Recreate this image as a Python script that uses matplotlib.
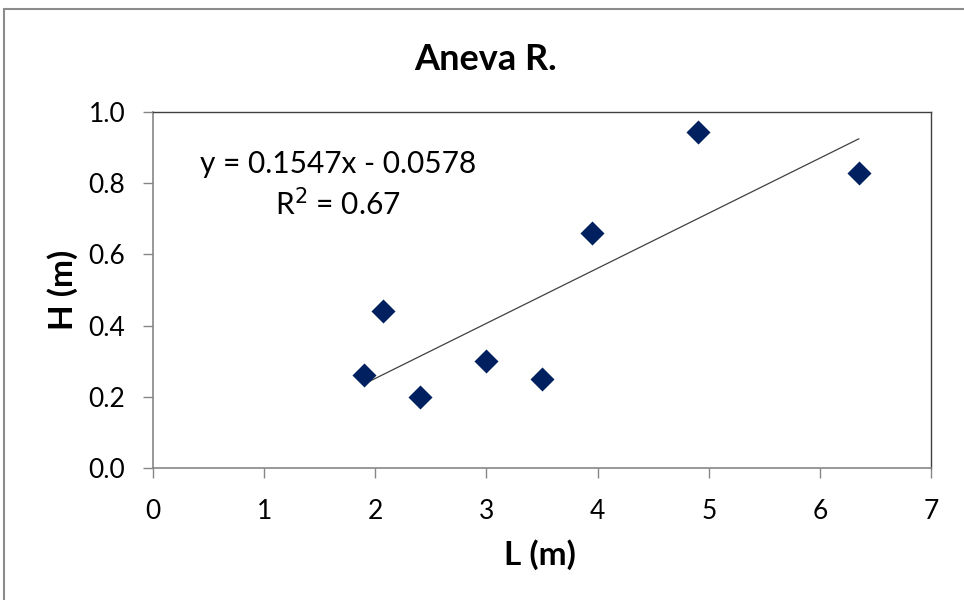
import numpy as np
import matplotlib.pyplot as plt
from matplotlib.patches import Rectangle

plt.rcParams['font.family'] = ['Lato', 'DejaVu Sans']

# data
L = [1.90, 2.07, 2.40, 3.00, 3.50, 3.95, 4.90, 6.35]
H = [0.26, 0.44, 0.20, 0.30, 0.25, 0.66, 0.945, 0.83]
slope = 0.1547
intercept = -0.0578
r2 = 0.67

x_ticks = [0, 1, 2, 3, 4, 5, 6, 7]
y_ticks = [0.0, 0.2, 0.4, 0.6, 0.8, 1.0]

fig = plt.figure(figsize=(9.64, 6), dpi=100)
ax = fig.add_axes([153 / 964, 132 / 600, 778 / 964, 356 / 600])

# outer chart border (only top/left visible)
fig.patches.append(Rectangle((4 / 964, -0.1), 1.2, 591 / 600 + 0.1,
                             transform=fig.transFigure, fill=False,
                             edgecolor='#8c8c8c', linewidth=1.5))

ax.scatter(L, H, marker='D', s=150, color='#002060', zorder=3, linewidths=0)

xs = np.array([min(L), max(L)])
ax.plot(xs, slope * xs + intercept, color='#404040', linewidth=0.9, zorder=2)

ax.text(1.665, 0.855, 'y = %.4fx - %.4f' % (slope, -intercept), ha='center', va='center',
        fontsize=21.5)
ax.text(1.665, 0.74, 'R$^2$ = %.2f' % r2, ha='center', va='center', fontsize=21.5)

ax.set_xlim(0, 7)
ax.set_ylim(0, 1.0)
ax.set_xticks(x_ticks)
ax.set_yticks(y_ticks)
ax.set_yticklabels(['%.1f' % v for v in y_ticks])
ax.tick_params(direction='out', length=7, width=1, color='#868686', labelsize=19)
ax.tick_params(axis='x', pad=15)
ax.tick_params(axis='y', pad=13)

for side in ['left', 'bottom']:
    ax.spines[side].set_color('#868686')
    ax.spines[side].set_linewidth(1.2)
for side in ['top', 'right']:
    ax.spines[side].set_color('#404040')
    ax.spines[side].set_linewidth(1.0)

ax.set_xlabel('L (m)', fontsize=24, fontweight='bold')
ax.set_ylabel('H (m)', fontsize=24, fontweight='bold')
ax.xaxis.set_label_coords((540 - 153) / 778, (468 - 555) / 356)
ax.yaxis.set_label_coords((63 - 153) / 778, (468 - 290) / 356)
ax.xaxis.label.set_va('center')
ax.yaxis.label.set_va('center')
fig.text(486 / 964, 1 - 60 / 600, 'Aneva R.', ha='center', va='center',
         fontsize=26, fontweight='bold')

fig.savefig('out.png', dpi=100)
